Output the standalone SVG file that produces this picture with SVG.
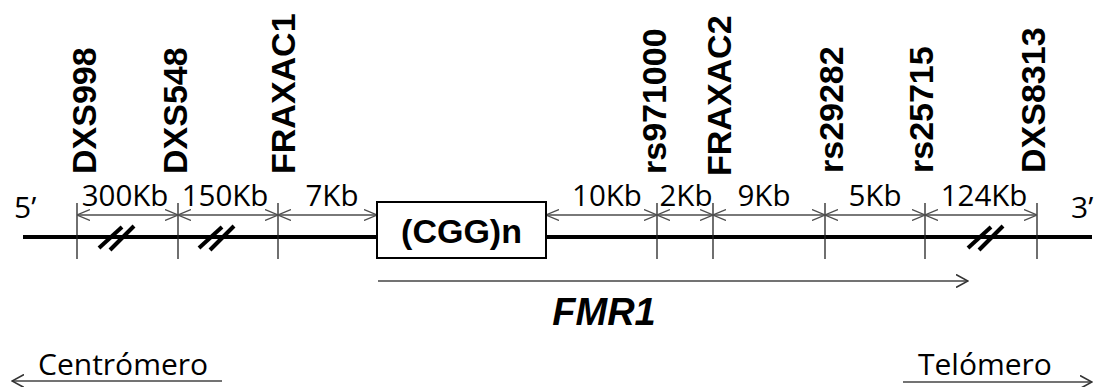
<svg xmlns="http://www.w3.org/2000/svg" width="1096" height="387" viewBox="0 0 1096 387">
<style>
.mk{font-family:"Liberation Sans",Arial,sans-serif;font-weight:bold;font-size:34px;fill:#000}
.dl{font-family:"Open Sans","Noto Sans",sans-serif;font-size:29.5px;fill:#000;text-anchor:middle}
.end{font-family:"Open Sans","Noto Sans",sans-serif;font-size:30px;fill:#000}
.dim{stroke:#4d4d4d;stroke-width:1.3;fill:none;marker-start:url(#ah);marker-end:url(#ah)}
.tick{stroke:#222;stroke-width:1.3}
.brk{stroke:#000;stroke-width:4;stroke-linecap:butt}
.arr{stroke:#444;stroke-width:1.6;fill:none}
</style>
<defs>
<marker id="ah" viewBox="0 0 13 12" markerWidth="13" markerHeight="12" refX="13" refY="6" orient="auto-start-reverse" markerUnits="userSpaceOnUse">
<path d="M0,0.5 L13,6 L0,11.5" fill="none" stroke="#4d4d4d" stroke-width="1.3"/>
</marker>
<marker id="ah2" viewBox="0 0 13 14" markerWidth="13" markerHeight="14" refX="12" refY="7" orient="auto-start-reverse" markerUnits="userSpaceOnUse">
<path d="M0,0.5 L12,7 L0,13.5" fill="none" stroke="#333" stroke-width="1.6"/>
</marker>
</defs>
<rect width="1096" height="387" fill="#fff"/>

<g id="chromosome">
<line x1="23" y1="237" x2="1092" y2="237" stroke="#000" stroke-width="4"/>
<text class="end" x="14" y="218" font-size="31">5’</text>
<text class="end" x="1071" y="218" font-size="31">3’</text>
</g>

<g id="connectors">
<line class="tick" x1="77" y1="203" x2="77" y2="259"/>
<line class="tick" x1="178" y1="203" x2="178" y2="259"/>
<line class="tick" x1="278" y1="203" x2="278" y2="259"/>
<line class="tick" x1="657" y1="203" x2="657" y2="259"/>
<line class="tick" x1="713" y1="203" x2="713" y2="259"/>
<line class="tick" x1="825" y1="203" x2="825" y2="259"/>
<line class="tick" x1="925" y1="203" x2="925" y2="259"/>
<line class="tick" x1="1037" y1="203" x2="1037" y2="259"/>

<line class="dim" x1="77" y1="215" x2="178" y2="215"/>
<line class="dim" x1="178" y1="215" x2="278" y2="215"/>
<line class="dim" x1="278" y1="215" x2="377" y2="215"/>
<line class="dim" x1="546" y1="215" x2="657" y2="215"/>
<line class="dim" x1="657" y1="215" x2="713" y2="215"/>
<line class="dim" x1="713" y1="215" x2="825" y2="215"/>
<line class="dim" x1="825" y1="215" x2="925" y2="215"/>
<line class="dim" x1="925" y1="215" x2="1037" y2="215"/>

<g id="breaks">
<line class="brk" x1="99" y1="248" x2="122" y2="227"/>
<line class="brk" x1="110" y1="250" x2="134" y2="226"/>
<line class="brk" x1="199" y1="248" x2="222" y2="227"/>
<line class="brk" x1="210" y1="250" x2="234" y2="226"/>
<line class="brk" x1="968" y1="248" x2="991" y2="227"/>
<line class="brk" x1="979" y1="250" x2="1003" y2="226"/>
</g>

<line class="arr" x1="378" y1="281" x2="968" y2="281" marker-end="url(#ah2)"/>
<line class="arr" x1="12" y1="381" x2="222" y2="381" marker-start="url(#ah2)"/>
<line class="arr" x1="903" y1="382" x2="1092" y2="382" marker-end="url(#ah2)"/>
</g>

<g id="distances">
<text class="dl" x="125" y="206">300Kb</text>
<text class="dl" x="225" y="206">150Kb</text>
<text class="dl" x="332" y="206">7Kb</text>
<text class="dl" x="607" y="206">10Kb</text>
<text class="dl" x="686" y="206">2Kb</text>
<text class="dl" x="764" y="206">9Kb</text>
<text class="dl" x="875" y="206">5Kb</text>
<text class="dl" x="984" y="206">124Kb</text>
</g>

<g id="markers">
<text class="mk" transform="translate(96,174) rotate(-90)">DXS998</text>
<text class="mk" transform="translate(187,174) rotate(-90)">DXS548</text>
<text class="mk" transform="translate(295,174) rotate(-90)">FRAXAC1</text>
<text class="mk" transform="translate(666,174) rotate(-90)">rs971000</text>
<text class="mk" transform="translate(731,176) rotate(-90)">FRAXAC2</text>
<text class="mk" transform="translate(843,173) rotate(-90)">rs29282</text>
<text class="mk" transform="translate(933,173) rotate(-90)">rs25715</text>
<text class="mk" transform="translate(1045,173) rotate(-90)">DXS8313</text>
</g>

<g id="cgg">
<rect x="377" y="202" width="169" height="56" fill="#fff" stroke="#000" stroke-width="2"/>
<text x="461.5" y="243" font-family="Liberation Sans, Arial, sans-serif" font-weight="bold" font-size="34" text-anchor="middle">(CGG)n</text>
</g>

<g id="fmr1">
<text x="604" y="325" font-family="Liberation Sans, Arial, sans-serif" font-weight="bold" font-style="italic" font-size="38" text-anchor="middle">FMR1</text>
</g>

<g id="centromere">
<text class="end" x="38" y="375" font-size="31">Centrómero</text>
</g>
<g id="telomere">
<text class="end" x="918" y="375" font-size="30.5">Telómero</text>
</g>
</svg>
